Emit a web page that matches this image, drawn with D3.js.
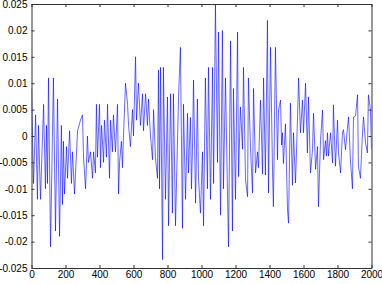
<!DOCTYPE html>
<html>
<head>
<meta charset="utf-8">
<script src="https://cdn.jsdelivr.net/npm/d3@7"></script>
<style>
  body { margin: 0; background: #fff; }
  svg { display: block; }
  .tick text { font-family: 'Liberation Sans', Arial, sans-serif; font-size: 10px; fill: #000; }
  .tick line, .domain { stroke: #333; }
</style>
</head>
<body>
<div id="chart"></div>
<script>
// sample index of each traced point
const sampleIdx = [
  0, 12, 24, 35, 41, 53, 71, 82, 88, 94, 100, 112, 129, 141, 153, 165, 176, 182, 188, 194,
  206, 212, 224, 235, 241, 253, 271, 288, 300, 306, 318, 329, 335, 347, 359, 365, 376, 382, 388, 400,
  406, 412, 424, 429, 441, 447, 459, 465, 476, 482, 494, 506, 512, 518, 529, 535, 541, 553, 565, 571,
  582, 594, 600, 612, 618, 629, 641, 653, 659, 671, 682, 688, 700, 712, 718, 729, 741, 747, 753, 759,
  771, 776, 788, 800, 806, 818, 829, 835, 847, 865, 876, 888, 894, 906, 918, 923, 935, 941, 947, 953,
  965, 976, 982, 994, 1006, 1012, 1023, 1035, 1041, 1053, 1065, 1071, 1082, 1094, 1100, 1112, 1123, 1129, 1141, 1153,
  1159, 1171, 1182, 1188, 1200, 1212, 1218, 1229, 1241, 1247, 1259, 1271, 1276, 1288, 1300, 1306, 1318, 1329, 1335, 1347,
  1359, 1365, 1376, 1388, 1394, 1406, 1418, 1423, 1435, 1447, 1453, 1465, 1471, 1476, 1482, 1494, 1506, 1512, 1523, 1535,
  1541, 1553, 1565, 1571, 1582, 1594, 1600, 1612, 1623, 1629, 1641, 1653, 1659, 1671, 1682, 1688, 1700, 1712, 1718, 1729,
  1735, 1741, 1747, 1759, 1771, 1776, 1788, 1800, 1806, 1818, 1829, 1835, 1847, 1859, 1865, 1876, 1888, 1894, 1906, 1918,
  1923, 1935, 1947, 1953, 1965, 1976, 1982, 1994, 2000
];

// signal value at each traced point
const signal = [
  0.009, -0.009, 0.004, -0.012, 0.002, -0.012, 0.006, -0.010, 0.002, -0.009, 0.011, -0.021, 0.011, -0.018, 0.007, -0.019, 0.002, -0.013, -0.001, -0.011,
  -0.002, -0.008, 0.001, -0.009, -0.003, -0.011, 0.001, 0.003, 0.004, -0.004, -0.010, 0.000, -0.005, -0.003, -0.008, -0.003, -0.007, 0.006, -0.004, 0.006,
  -0.006, 0.002, -0.005, 0.003, -0.004, 0.006, -0.008, 0.003, -0.003, 0.004, -0.003, 0.006, -0.011, -0.005, -0.001, -0.006, 0.000, 0.010, 0.006, 0.002,
  -0.002, 0.005, 0.000, 0.015, 0.003, 0.010, 0.002, 0.008, 0.001, 0.008, 0.002, 0.007, 0.000, -0.0045, 0.005, -0.004, -0.008, 0.0125, -0.010, 0.013,
  -0.0234, 0.013, -0.012, 0.0074, -0.017, 0.008, -0.0146, 0.008, -0.017, 0.0075, 0.0168, -0.0175, 0.006, -0.012, 0.0043, -0.007, 0.0035, -0.010, -0.0025, 0.0106,
  -0.0127, 0.007, -0.0077, -0.0146, -0.003, -0.017, 0.011, -0.010, 0.013, -0.012, 0.013, -0.009, 0.025, -0.005, 0.0197, -0.015, 0.020, -0.010, 0.011, -0.011,
  -0.021, 0.018, -0.018, 0.009, -0.012, 0.0197, -0.0077, 0.0055, -0.0025, 0.013, -0.0083, -0.0115, 0.011, -0.002, -0.0108, 0.009, -0.007, -0.003, -0.006, 0.0068,
  -0.0072, 0.011, -0.0074, 0.0219, -0.0108, 0.0168, -0.007, -0.0134, 0.0168, -0.0045, 0.0049, 0.0068, -0.0017, 0.0006, -0.0052, 0.0023, -0.014, -0.0165, 0.0062, -0.0093,
  0.0006, -0.0089, 0.0036, 0.011, 0.0006, 0.0068, 0.0006, 0.010, -0.0032, 0.0074, -0.007, -0.0026, 0.0043, -0.0063, -0.002, -0.0134, -0.0009, 0.0049, -0.0045, -0.0009,
  -0.0038, 0.0006, -0.0038, 0.0006, -0.0051, 0.0059, -0.0057, 0.003, -0.0032, -0.007, 0.0006, 0.0012, -0.0026, 0.0017, 0.0036, -0.0045, -0.010, 0.0036, 0.0038, 0.0078,
  -0.0057, -0.008, 0.0006, 0.0036, -0.0013, -0.0032, 0.0078, 0.0049, -0.0026
];

const xTicks = [0, 200, 400, 600, 800, 1000, 1200, 1400, 1600, 1800, 2000];
const yTicks = [-0.025, -0.02, -0.015, -0.01, -0.005, 0, 0.005, 0.01, 0.015, 0.02, 0.025];

const width = 382;
const height = 284;
const margin = { top: 4, right: 10.5, bottom: 16, left: 31.5 };
const innerW = width - margin.left - margin.right;
const innerH = height - margin.top - margin.bottom;

const svg = d3.select('#chart')
  .append('svg')
  .attr('width', width)
  .attr('height', height);

const g = svg.append('g')
  .attr('transform', `translate(${margin.left},${margin.top})`);

const x = d3.scaleLinear().domain([0, 2000]).range([0, innerW]);
const y = d3.scaleLinear().domain([-0.025, 0.025]).range([innerH, 0]);

const points = sampleIdx.map((d, i) => [d, signal[i]]);

g.append('clipPath')
  .attr('id', 'clip')
  .append('rect')
  .attr('width', innerW)
  .attr('height', innerH);

// signal trace
g.append('path')
  .datum(points)
  .attr('clip-path', 'url(#clip)')
  .attr('fill', 'none')
  .attr('stroke', '#0000ff')
  .attr('stroke-width', 0.6)
  .attr('d', d3.line().x(d => x(d[0])).y(d => y(d[1])));

// matlab style box, ticks pointing inward
g.append('g')
  .attr('transform', `translate(0,${innerH})`)
  .call(d3.axisBottom(x).tickValues(xTicks).tickFormat(d3.format('d'))
    .tickSizeInner(-3).tickSizeOuter(0).tickPadding(3));

g.append('g')
  .call(d3.axisTop(x).tickValues(xTicks).tickFormat('')
    .tickSizeInner(-3).tickSizeOuter(0));

g.append('g')
  .call(d3.axisLeft(y).tickValues(yTicks).tickFormat(d => (d === 0 ? '0' : String(+d.toFixed(3))))
    .tickSizeInner(-3).tickSizeOuter(0).tickPadding(4));

g.append('g')
  .attr('transform', `translate(${innerW},0)`)
  .call(d3.axisRight(y).tickValues(yTicks).tickFormat('')
    .tickSizeInner(-3).tickSizeOuter(0));
</script>
</body>
</html>
